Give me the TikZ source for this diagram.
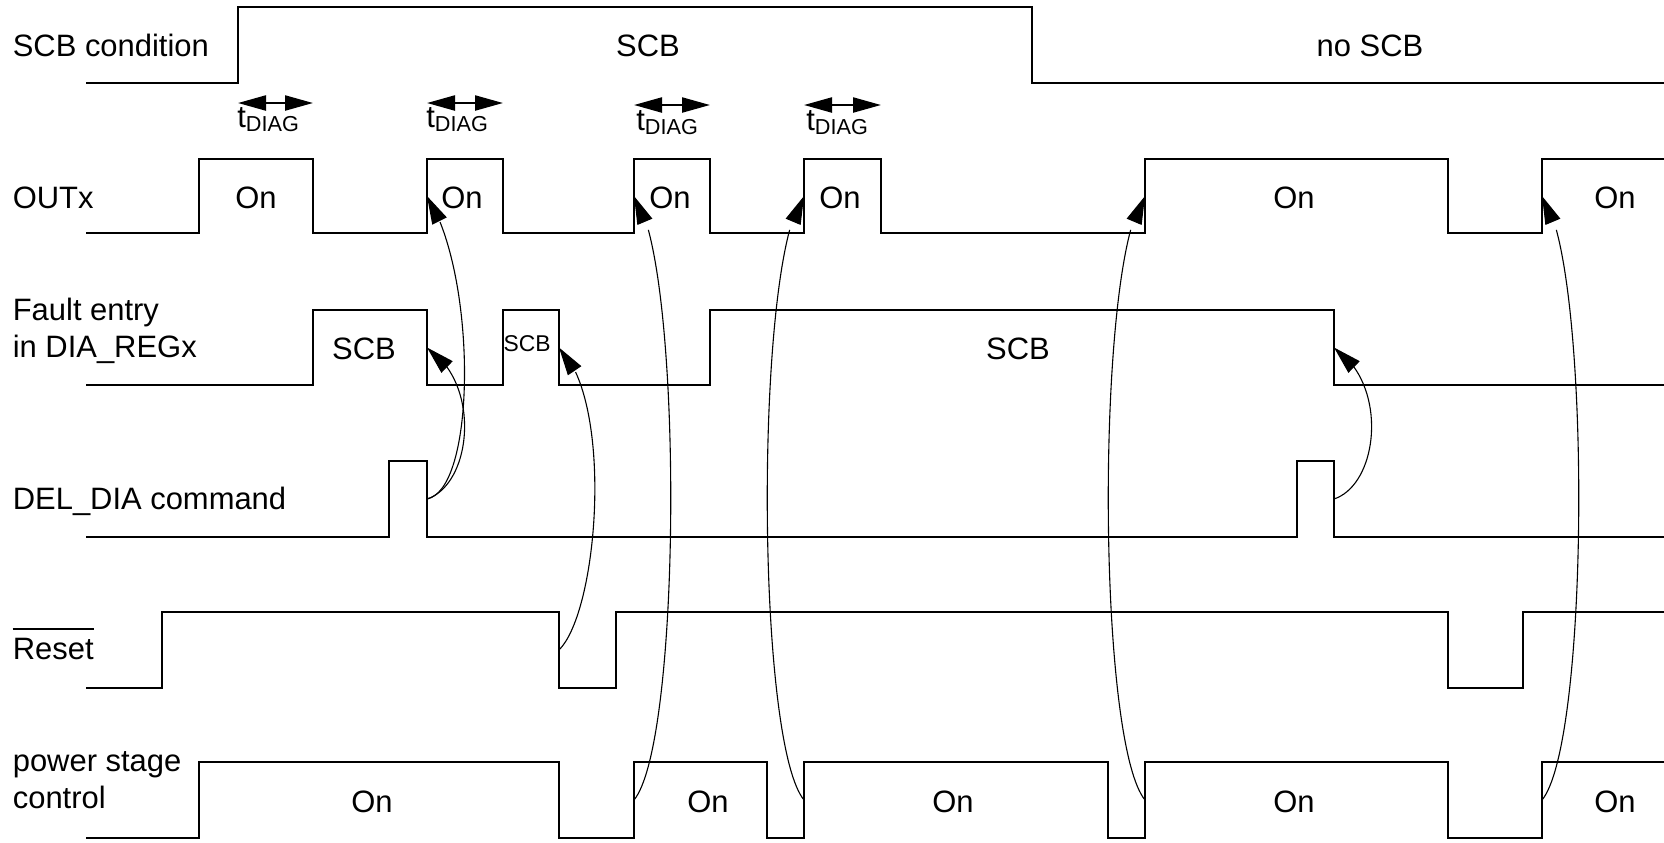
\documentclass[tikz,border=0pt]{standalone}
\usepackage{fontspec}
\setmainfont{Liberation Sans}
\usetikzlibrary{arrows.meta,bending}

\newcommand{\tdiag}{t\textsubscript{DIAG}}

\begin{document}
\begin{tikzpicture}[x=0.2mm,y=0.2mm,
		font=\fontsize{17.6}{21}\selectfont,
		sig/.style={line width=0.55mm},
		cause/.style={line width=0.22mm,-{Triangle[length=5.6mm,width=3.2mm]}},
		tdspan/.style={line width=0.45mm,{Triangle[length=5.6mm,width=3mm]}-{Triangle[length=5.6mm,width=3mm]}},
		siglabel/.style={anchor=base west,inner sep=0pt},
		sigval/.style={anchor=base,inner sep=0pt}]
		\useasboundingbox (0,0) rectangle (1664,-842);

		\node[siglabel] (lscb) at (12.5,-56) {SCB condition};
		\node[siglabel] (lout) at (12.5,-208) {OUTx};
		\node[siglabel,anchor=west,align=left] (lfault) at (12.5,-331) {Fault entry\\in DIA\_REGx};
		\node[siglabel] (ldel) at (12.5,-509) {DEL\_DIA command};
		\node[siglabel] (lreset) at (12.5,-659) {Reset};
		\draw[line width=0.4mm] ([yshift=1.6mm]lreset.north west) -- ([yshift=1.6mm]lreset.north east);
		\node[siglabel,anchor=west,align=left] (lpsc) at (12.5,-780) {power stage\\control};

		\draw[sig] (86,-83) -| (238,-7) -| (1032,-83) -- (1664,-83);
		\draw[sig] (86,-233) -| (199,-159) -| (313,-233) -| (427,-159) -| (503,-233) -| (634,-159) -| (710,-233) -| (804,-159) -| (881,-233) -| (1145,-159) -| (1448,-233) -| (1542,-159) -- (1664,-159);
		\draw[sig] (86,-385) -| (313,-310) -| (427,-385) -| (503,-310) -| (559,-385) -| (710,-310) -| (1334,-385) -- (1664,-385);
		\draw[sig] (86,-537) -| (389,-461) -| (427,-537) -| (1297,-461) -| (1334,-537) -- (1664,-537);
		\draw[sig] (86,-688) -| (162,-612) -| (559,-688) -| (616,-612) -| (1448,-688) -| (1523,-612) -- (1664,-612);
		\draw[sig] (86,-838) -| (199,-762) -| (559,-838) -| (634,-762) -| (767,-838) -| (804,-762) -| (1108,-838) -| (1145,-762) -| (1448,-838) -| (1542,-762) -- (1664,-762);

		\node[sigval] (scb) at (648,-56) {SCB};
		\node[sigval] (noscb) at (1370,-56) {no SCB};

		\node[sigval] (on1) at (256,-208) {On};
		\node[sigval] (on2) at (462,-208) {On};
		\node[sigval] (on3) at (670,-208) {On};
		\node[sigval] (on4) at (840,-208) {On};
		\node[sigval] (on5) at (1294,-208) {On};
		\node[sigval] (on6) at (1615,-208) {On};

		\node[sigval] (sc1) at (364,-359) {SCB};
		\node[sigval,font=\fontsize{13}{15}\selectfont] (sc2) at (527,-351) {SCB};
		\node[sigval] (sc3) at (1018,-359) {SCB};

		\node[sigval] (pon1) at (372,-812) {On};
		\node[sigval] (pon2) at (708,-812) {On};
		\node[sigval] (pon3) at (953,-812) {On};
		\node[sigval] (pon4) at (1294,-812) {On};
		\node[sigval] (pon5) at (1615,-812) {On};

		\coordinate (tl1) at (238,-103);
		\coordinate (tr1) at (313,-103);
		\coordinate (tl2) at (427,-103);
		\coordinate (tr2) at (503,-103);
		\coordinate (tl3) at (634,-105);
		\coordinate (tr3) at (710,-105);
		\coordinate (tl4) at (804,-105);
		\coordinate (tr4) at (881,-105);
		\draw[tdspan] (tl1) -- (tr1);
		\draw[tdspan] (tl2) -- (tr2);
		\draw[tdspan] (tl3) -- (tr3);
		\draw[tdspan] (tl4) -- (tr4);
		\node[siglabel] (td1) at (237,-127) {\tdiag};
		\node[siglabel] (td2) at (426,-127) {\tdiag};
		\node[siglabel] (td3) at (636,-130) {\tdiag};
		\node[siglabel] (td4) at (806,-130) {\tdiag};

		\coordinate (dd1) at (427,-499);
		\coordinate (dd2) at (1334,-499);
		\coordinate (fe1) at (427,-347.5);
		\coordinate (fe2) at (559,-347.5);
		\coordinate (fe3) at (1334,-347.5);
		\coordinate (rs1) at (559,-650);
		\coordinate (ou2) at (427,-196);
		\coordinate (ou3) at (634,-196);
		\coordinate (ou4) at (804,-196);
		\coordinate (ou5) at (1145,-196);
		\coordinate (ou6) at (1542,-196);
		\coordinate (pc2) at (634,-800);
		\coordinate (pc3) at (804,-800);
		\coordinate (pc4) at (1145,-800);
		\coordinate (pc5) at (1542,-800);

		\draw[cause] (dd1) .. controls +(45,15) and +(55,-36.5) .. (fe1);
		\draw[cause] (dd1) .. controls +(50,10) and +(50,-78) .. (ou2);
		\draw[cause] (rs1) .. controls +(40,40) and +(55,-52.5) .. (fe2);
		\draw[cause] (pc2) .. controls +(49,60) and +(49,-60) .. (ou3);
		\draw[cause] (pc3) .. controls +(-49,60) and +(-49,-60) .. (ou4);
		\draw[cause] (pc4) .. controls +(-49,60) and +(-49,-60) .. (ou5);
		\draw[cause] (pc5) .. controls +(49,60) and +(49,-60) .. (ou6);
		\draw[cause] (dd2) .. controls +(45,15) and +(55,-36.5) .. (fe3);
\end{tikzpicture}
\end{document}
